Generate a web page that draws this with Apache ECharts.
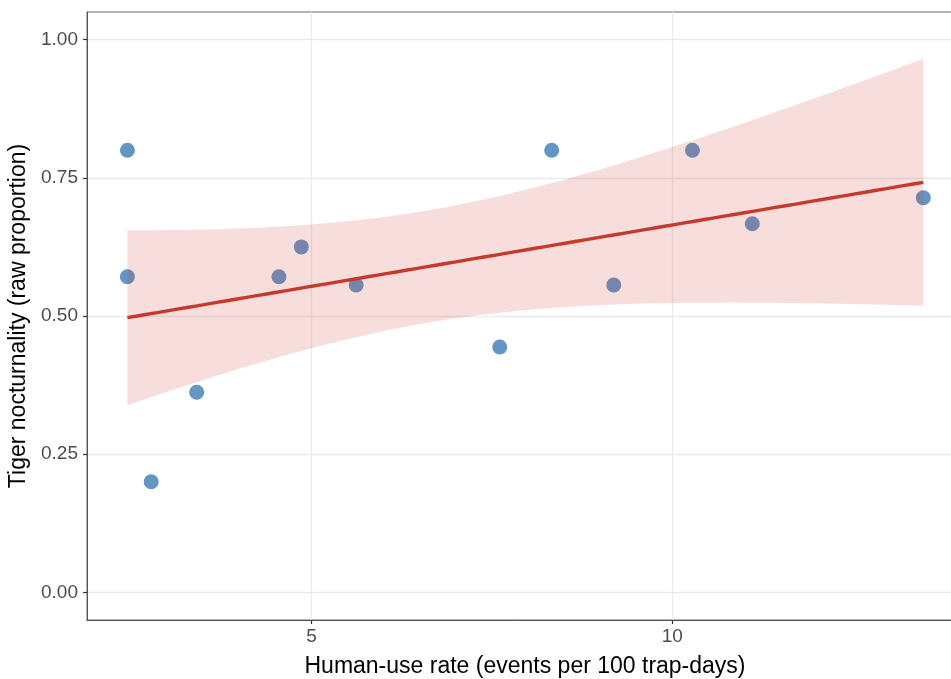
<!DOCTYPE html>
<html>
<head>
<meta charset="utf-8">
<title>Tiger nocturnality vs human-use rate</title>
<script src="https://cdn.jsdelivr.net/npm/echarts@6/dist/echarts.min.js"></script>
<style>
  html, body { margin: 0; padding: 0; background: #ffffff; }
  #chart { width: 951px; height: 679px; }
</style>
</head>
<body>
<div id="chart"></div>
<script>
// Site-level observations: human-use rate vs. raw share of nocturnal tiger detections
const humanUseRate = [2.45, 2.45, 2.78, 3.41, 4.55, 4.86, 5.62, 7.61, 8.33, 9.19, 10.28, 11.11, 13.48];
const tigerNocturnality = [0.800, 0.571, 0.200, 0.362, 0.571, 0.625, 0.556, 0.444, 0.800, 0.556, 0.800, 0.667, 0.714];

// Axis breaks
const xTicks = [5, 10];
const yTicks = [0, 0.25, 0.5, 0.75, 1.0];

// Ordinary least-squares fit with a 95% confidence band (t quantile, df = n - 2 = 11)
const T_975_DF11 = 2.2010;
function linearFit(xs, ys) {
  const n = xs.length;
  const mx = xs.reduce((a, b) => a + b, 0) / n;
  const my = ys.reduce((a, b) => a + b, 0) / n;
  let sxx = 0, sxy = 0;
  for (let i = 0; i < n; i++) {
    sxx += (xs[i] - mx) * (xs[i] - mx);
    sxy += (xs[i] - mx) * (ys[i] - my);
  }
  const slope = sxy / sxx;
  const intercept = my - slope * mx;
  let sse = 0;
  for (let i = 0; i < n; i++) {
    const r = ys[i] - (intercept + slope * xs[i]);
    sse += r * r;
  }
  const s = Math.sqrt(sse / (n - 2));
  return { n, mx, sxx, slope, intercept, s };
}

const fit = linearFit(humanUseRate, tigerNocturnality);
const xLo = Math.min(...humanUseRate);
const xHi = Math.max(...humanUseRate);
const STEPS = 80;
const fitLine = [];
const band = [];
for (let i = 0; i <= STEPS; i++) {
  const x = xLo + (xHi - xLo) * i / STEPS;
  const yhat = fit.intercept + fit.slope * x;
  const se = fit.s * Math.sqrt(1 / fit.n + (x - fit.mx) * (x - fit.mx) / fit.sxx);
  fitLine.push([x, yhat]);
  band.push([x, yhat - T_975_DF11 * se, yhat + T_975_DF11 * se]);
}

const points = humanUseRate.map((x, i) => [x, tigerNocturnality[i]]);

const FONT = "'Liberation Sans', Arial, Helvetica, sans-serif";
const chart = echarts.init(document.getElementById('chart'), null, { renderer: 'canvas' });

chart.setOption({
  animation: false,
  backgroundColor: '#ffffff',
  grid: {
    left: 87, top: 12, width: 876, height: 608,
    outerBoundsMode: 'none',
    containLabel: false,
    show: true, borderColor: '#666666', borderWidth: 1, backgroundColor: 'transparent'
  },
  xAxis: {
    type: 'value',
    min: 1.89, max: 14.03,
    name: 'Human-use rate (events per 100 trap-days)',
    nameLocation: 'middle',
    nameGap: 35,
    nameTextStyle: { fontFamily: FONT, fontSize: 23, color: '#000000' },
    axisLine: { show: true, onZero: false, lineStyle: { color: '#555555', width: 1 } },
    axisTick: { show: true, inside: false, length: 4, lineStyle: { color: '#333333', width: 1.2 }, customValues: xTicks },
    axisLabel: { customValues: xTicks, margin: 7, fontFamily: FONT, fontSize: 19, color: '#4d4d4d' },
    splitLine: { show: true, lineStyle: { color: '#ebebeb', width: 1.3 } }
  },
  yAxis: {
    type: 'value',
    min: -0.05, max: 1.05,
    name: 'Tiger nocturnality (raw proportion)',
    nameLocation: 'middle',
    nameGap: 52,
    nameTextStyle: { fontFamily: FONT, fontSize: 23, color: '#000000' },
    axisLine: { show: true, onZero: false, lineStyle: { color: '#555555', width: 1 } },
    axisTick: { show: true, inside: false, length: 4, lineStyle: { color: '#333333', width: 1.2 }, customValues: yTicks },
    axisLabel: {
      customValues: yTicks, margin: 9, fontFamily: FONT, fontSize: 19, color: '#4d4d4d',
      formatter: v => v.toFixed(2)
    },
    splitLine: { show: true, lineStyle: { color: '#ebebeb', width: 1.3 } }
  },
  series: [
    {
      name: 'sites',
      type: 'scatter',
      data: points,
      symbol: 'circle',
      symbolSize: 15,
      itemStyle: { color: '#5b8fc2', opacity: 0.95 },
      z: 2
    },
    {
      name: 'confidence band',
      type: 'custom',
      data: band,
      encode: { x: 0, y: [1, 2] },
      renderItem: function (params, api) {
        if (params.dataIndex !== 0) return null;
        const upper = band.map(d => api.coord([d[0], d[2]]));
        const lower = band.map(d => api.coord([d[0], d[1]])).reverse();
        return {
          type: 'polygon',
          shape: { points: upper.concat(lower) },
          style: { fill: 'rgba(205, 60, 45, 0.17)', stroke: 'none' }
        };
      },
      silent: true,
      z: 3
    },
    {
      name: 'fit',
      type: 'line',
      data: fitLine,
      showSymbol: false,
      symbol: 'none',
      lineStyle: { color: '#c53a2a', width: 3.4 },
      silent: true,
      z: 4
    }
  ]
});
</script>
</body>
</html>
